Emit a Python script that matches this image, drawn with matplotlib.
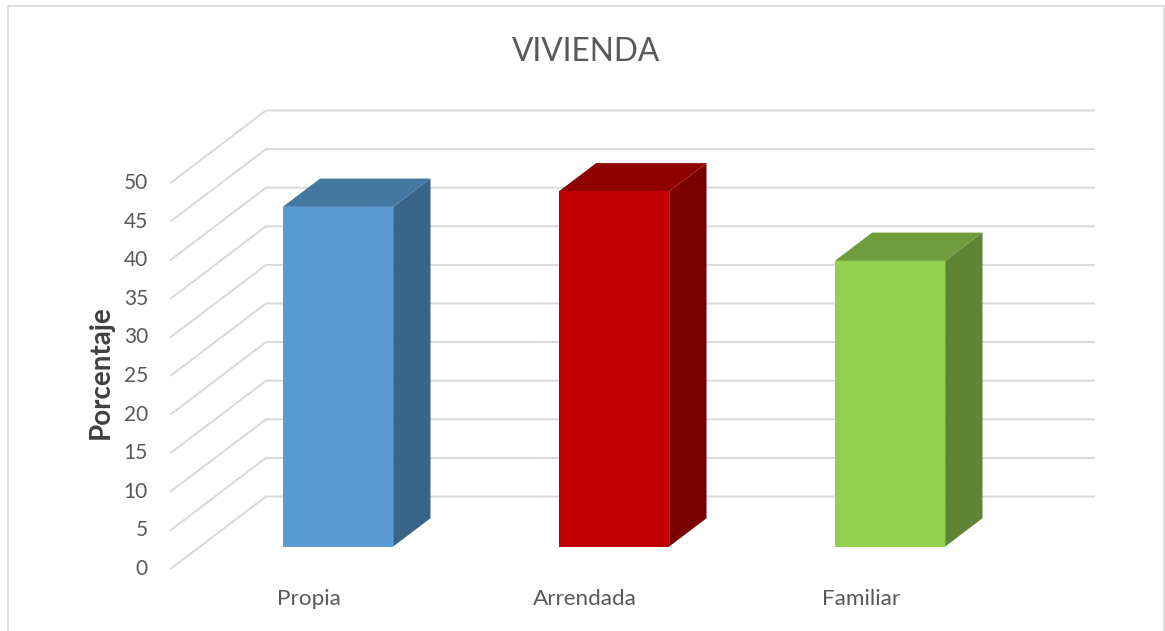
import matplotlib
matplotlib.use('Agg')
import matplotlib.pyplot as plt
from matplotlib.patches import Polygon

categories = ['Propia', 'Arrendada', 'Familiar']
values = [44, 46, 37]
y_ticks = [0, 5, 10, 15, 20, 25, 30, 35, 40, 45, 50]

front_colors = ['#5B9BD5', '#C00000', '#92D050']
top_colors = ['#4676A2', '#8F0000', '#6F9C3C']
side_colors = ['#39648A', '#7B0000', '#5E8534']

grid_color = '#D9D9D9'
text_color = '#595959'

plt.rcParams['font.family'] = ['Lato', 'DejaVu Sans']

# the 3D box in pixels: front left of the floor, and how far the back wall is shifted
x0, y0 = 171, 568.5
unit_x = 276
unit_y = 7.72
depth_x, depth_y = 95, -72


def project(cat, val, depth):
    return (x0 + cat * unit_x + depth * depth_x,
            y0 - val * unit_y + depth * depth_y)


fig = plt.figure(figsize=(11.65, 6.31), dpi=100)
ax = fig.add_axes([0, 0, 1, 1])
ax.set_xlim(0, 1165)
ax.set_ylim(631, 0)
ax.axis('off')

# frame, open at the bottom
ax.plot([7.5, 7.5, 1164, 1164], [631, 5.5, 5.5, 631], color=grid_color, lw=1.2, zorder=1)

# gridlines on side wall and back wall
for t in y_ticks:
    a = project(0, t, 0)
    b = project(0, t, 1)
    c = project(len(categories), t, 1)
    ax.plot([a[0], b[0], c[0]], [a[1], b[1], c[1]], color=grid_color, lw=1.4, zorder=2)
    ax.text(a[0] - 23, a[1] + 0.5, str(t), ha='right', va='center',
            fontsize=15, color=text_color)

# bars
gap = 0.3
d1, d2 = 0.305, 0.698
for i, v in enumerate(values):
    l, r = i + gap, i + 1 - gap
    front = [project(l, 0, d1), project(r, 0, d1), project(r, v, d1), project(l, v, d1)]
    side = [project(r, 0, d1), project(r, 0, d2), project(r, v, d2), project(r, v, d1)]
    top = [project(l, v, d1), project(r, v, d1), project(r, v, d2), project(l, v, d2)]
    ax.add_patch(Polygon(side, closed=True, fc=side_colors[i], ec='none', zorder=3))
    ax.add_patch(Polygon(top, closed=True, fc=top_colors[i], ec='none', zorder=3))
    ax.add_patch(Polygon(front, closed=True, fc=front_colors[i], ec='none', zorder=4))
    ax.text(project(i + 0.5, 0, 0)[0], 599, categories[i], ha='center', va='center',
            fontsize=16.2, color=text_color)

ax.text(586.5, 52, 'VIVIENDA', ha='center', va='center', fontsize=22.8,
        color=text_color)
ax.text(101, 372, 'Porcentaje', rotation=90, ha='center', va='center', fontsize=20,
        fontweight='bold', color='#404040')

fig.savefig('out.png', dpi=100, facecolor='white')
